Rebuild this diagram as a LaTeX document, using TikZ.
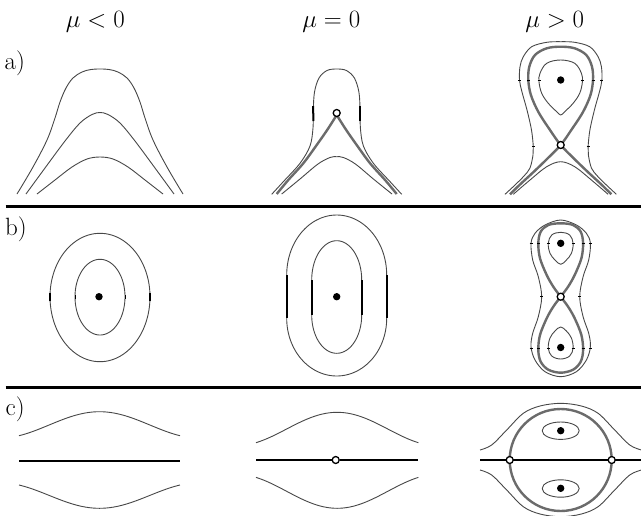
\documentclass[tikz,border=0pt]{standalone}
\usepackage{tikz}
\begin{document}
\begin{tikzpicture}[x=1pt,y=-1pt,
 orb/.style={draw=black!72, line width=0.9pt, line join=round},
 sepx/.style={draw=black!58, line width=2.4pt, line join=round},
 tk/.style={draw=black, line width=0.8pt},
 tkb/.style={draw=black, line width=2pt},
 hline/.style={draw=black, line width=2.2pt},
 rulex/.style={draw=black, line width=2.6pt},
 dotf/.style={circle, fill=black, inner sep=0pt, minimum size=7.4pt},
 doto/.style={circle, draw=black, fill=white, line width=1.3pt, inner sep=0pt, minimum size=7pt},
 lab/.style={inner sep=0pt, font=\fontsize{25}{30}\selectfont}]
\useasboundingbox (0,0) rectangle (641,515);
\clip (0,0) rectangle (641,515);

% labels
\node[lab, anchor=base] (l1) at (95.3,27.3) {$\mu<0$};
\node[lab, anchor=base] (l2) at (331.3,27.3) {$\mu=0$};
\node[lab, anchor=base] (l3) at (554.7,27.3) {$\mu>0$};
\node[lab, anchor=base west] (la) at (4.5,69) {a)};
\node[lab, anchor=base west] (lb) at (5,235.5) {b)};
\node[lab, anchor=base west] (lc) at (5.5,415.5) {c)};

% separators
\coordinate (s1a) at (5.5,206.5); \coordinate (s1b) at (641,206.5);
\coordinate (s2a) at (5.5,387.3); \coordinate (s2b) at (641,387.3);
\draw[rulex] (s1a) -- (s1b);
\draw[rulex] (s2a) -- (s2b);

% ===== a1 =====
\draw[orb] plot[smooth, tension=0.6] coordinates {(17,194) (33,167) (47,140) (55,118) (60,102) (66,88) (73,78) (82,72) (91,69.5) (100,69) (109,69.5) (118,72) (127,78) (134,88) (140,102) (145,118) (153,140) (167,167) (183,194)};
\draw[orb] plot[smooth, tension=0.55] coordinates {(26,194) (45,168) (65,141) (80,123) (92,114.5) (100,112.5) (108,114.5) (120,123) (135,141) (155,168) (174,194)};
\draw[orb] plot[smooth, tension=0.55] coordinates {(37,194) (55,180) (72,167) (87,159) (100,157) (113,159) (128,167) (145,180) (163,194)};

% ===== a2 =====
\draw[orb] plot[smooth, tension=0.55] coordinates {(271.7,194.3) (283.3,181.7) (300,163.3) (310,146) (313,128) (313.3,110) (314.5,92) (319,78) (327,70.5) (336.7,69) (346.4,70.5) (354.4,78) (358.9,92) (360.1,110) (360.4,128) (363.4,146) (373.4,163.3) (390.1,181.7) (401.7,194.3)};
\draw[tkb] (313.2,106) -- (313.3,121);
\draw[tkb] (360.2,106) -- (360.2,121);
\draw[orb] plot[smooth, tension=0.55] coordinates {(281.7,194) (300,179) (318,164) (330,157.5) (336.7,156.7) (343.4,157.5) (355.4,164) (373.4,179) (392,194)};
\draw[sepx] plot[smooth, tension=0.55] coordinates {(276.7,194) (288.3,180) (303.3,163.3) (316.7,145) (327.5,129.5) (336.7,115)};
\draw[sepx] plot[smooth, tension=0.55] coordinates {(336.7,115) (345.9,129.5) (356.7,145) (370.1,163.3) (385.1,180) (396.7,194)};
\node[doto] (sa2) at (336.7,113) {};

% ===== a3 =====
\draw[orb] plot[smooth, tension=0.55] coordinates {(505,194.3) (515,185) (524,176) (530,168) (533,155) (533.3,146.7) (531.5,130) (527,110) (522,92) (519.5,80) (520,66.7) (523.3,56.7) (531.7,46.7) (546.7,42.3) (560.7,41.7) (574.7,42.3) (589.7,46.7) (598.1,56.7) (601.4,66.7) (601.9,80) (599.4,92) (594.4,110) (589.9,130) (588.1,146.7) (588.4,155) (591.4,168) (597.4,176) (606.4,185) (616.4,194.3)};
\draw[orb] plot[smooth, tension=0.55] coordinates {(513.3,194.3) (530,180) (546.7,166.7) (560.7,161.7) (574.7,166.7) (591.4,180) (608.1,194.3)};
\draw[orb] plot[smooth cycle, tension=0.6] coordinates {(560.7,60) (546.7,63.3) (540,73.3) (539,81.7) (541.7,93.3) (548.3,103.3) (556.7,111.7) (560.7,115) (564.7,111.7) (573.1,103.3) (579.7,93.3) (582.4,81.7) (581.4,73.3) (574.7,63.3)};
\draw[sepx] plot[smooth, tension=0.55] coordinates {(510,194.3) (520,184.5) (533,172.5) (547,159) (560.7,145) (571.3,130) (583,112) (590.5,95) (593,80) (592,66.7) (586.3,55) (574.7,48.3) (560.7,46.7) (546.7,48.3) (535,55) (529.3,66.7) (528.3,80) (530.9,95) (538.4,112) (550,130) (560.7,145) (574.4,159) (588.4,172.5) (601.4,184.5) (611.4,194.3)};
\foreach \xx in {519.5,528.3,539,582.4,593.1,601.9} \draw[tk] (\xx-1.5,80) -- (\xx+1.5,80);
\foreach \xx in {533.3,588.1} \draw[tk] (\xx-1.5,146.7) -- (\xx+1.5,146.7);
\node[dotf] (ca3) at (560.7,80) {};
\node[doto] (sa3) at (560.7,145) {};

% ===== b1 =====
\draw[orb] plot[domain=0:180, samples=61] ({100+50*cos(\x)},{296.7-63.4*sin(\x)}) -- plot[domain=180:360, samples=61] ({100+50*cos(\x)},{296.7-65*sin(\x)}) -- cycle;
\draw[orb] plot[domain=0:180, samples=61] ({100+25*cos(\x)},{296.7-37.4*sin(\x)}) -- plot[domain=180:360, samples=61] ({100+25*cos(\x)},{296.7-38.3*sin(\x)}) -- cycle;
\draw[tkb] (50,292.5) -- (50,301); \draw[tkb] (150,292.5) -- (150,301);
\draw[tk] (75,294.5) -- (75,299); \draw[tk] (125,294.5) -- (125,299);
\node[dotf] (cb1) at (99,296.7) {};

% ===== b2 =====
\draw[orb] plot[domain=0:180, samples=61] ({336.7+50*cos(\x)},{275-60*sin(\x)}) -- plot[domain=180:360, samples=61] ({336.7+50*cos(\x)},{318.3-57.7*sin(\x)}) -- cycle;
\draw[orb] plot[domain=0:180, samples=61] ({336.7+25*cos(\x)},{280-39.3*sin(\x)}) -- plot[domain=180:360, samples=61] ({336.7+25*cos(\x)},{315-38.3*sin(\x)}) -- cycle;
\draw[tkb] (286.7,275) -- (286.7,318.3); \draw[tkb] (386.7,275) -- (386.7,318.3);
\draw[tkb] (311.7,280) -- (311.7,315); \draw[tkb] (361.7,280) -- (361.7,315);
\node[dotf] (cb2) at (336.7,296.7) {};

% ===== b3 =====
\draw[orb] plot[smooth cycle, tension=0.55] coordinates {(560.7,220) (545,225) (535,233.3) (531,243.3) (532.7,260) (538.3,276.7) (541.7,296.7) (538.3,316.7) (532.7,333.3) (531,346.7) (535,360) (545,371.7) (560.7,376.7) (576.4,371.7) (586.4,360) (590.4,346.7) (588.7,333.3) (583.1,316.7) (579.7,296.7) (583.1,276.7) (588.7,260) (590.4,243.3) (586.4,233.3) (576.4,225)};
\draw[sepx] plot[smooth cycle, tension=0.55] coordinates {(560.7,296.7) (553.3,286.7) (546.7,275) (540,258.3) (538.3,243.3) (540.7,231.7) (548.3,225) (560.7,223.3) (573.1,225) (580.7,231.7) (583.1,243.3) (581.4,258.3) (574.7,275) (568.1,286.7) (560.7,296.7) (553.3,306.7) (546.7,318.3) (540,335) (538.3,350) (540.7,361.7) (548.3,369.7) (560.7,372.7) (573.1,369.7) (580.7,361.7) (583.1,350) (581.4,335) (574.7,318.3) (568.1,306.7)};
\draw[orb] plot[smooth cycle, tension=0.6] coordinates {(560.7,232.3) (551.7,235) (548.3,243.3) (550,253.3) (555,260) (560.7,264.3) (566.4,260) (571.4,253.3) (573.1,243.3) (569.7,235)};
\draw[orb] plot[smooth cycle, tension=0.6] coordinates {(560.7,327) (566.4,331) (571.4,338) (573.1,348) (569.7,356) (560.7,359) (551.7,356) (548.3,348) (550,338) (555,331)};
\foreach \xx in {531,538.3,548.3,573.1,583.1,590.4} {\draw[tk] (\xx-1.5,243.3) -- (\xx+1.5,243.3); \draw[tk] (\xx-1.5,348) -- (\xx+1.5,348);}
\foreach \xx in {541.7,579.7} \draw[tk] (\xx-1.5,296.7) -- (\xx+1.5,296.7);
\node[dotf] (cb3a) at (560.7,243.3) {};
\node[dotf] (cb3b) at (560.7,347.5) {};
\node[doto] (sb3) at (560.7,296.7) {};

% ===== c1 =====
\draw[orb] plot[domain=-1:1, samples=61] ({99.5+80.5*\x},{411.7+13.27*(1-cos(144*\x))});
\draw[orb] plot[domain=-1:1, samples=61] ({99.5+80.5*\x},{508.3-12.88*(1-cos(144*\x))});
\coordinate (c1a) at (19,460.7); \coordinate (c1b) at (180,460.7);
\draw[hline] (c1a) -- (c1b);

% ===== c2 =====
\draw[orb] plot[domain=-1:1, samples=61] ({337.2+81.2*\x},{412.3+16.8*(1-cos(144*\x))});
\draw[orb] plot[domain=-1:1, samples=61] ({337.2+81.2*\x},{508.3-17.1*(1-cos(144*\x))});
\coordinate (c2a) at (256,460); \coordinate (c2b) at (418.3,460);
\node[doto] (sc2) at (335.7,460) {};
\draw[hline] (c2a) -- (sc2);
\draw[hline] (sc2) -- (c2b);

% ===== c3 =====
\draw[orb] plot[smooth, tension=0.55] coordinates {(480,450) (491.7,445) (506.7,430) (523.3,413.3) (540,406) (560.7,403.3) (581.4,406) (598.1,413.3) (614.7,430) (629.7,445) (641.4,450)};
\draw[orb] plot[smooth, tension=0.55] coordinates {(480,470) (491.7,475) (506.7,490) (523.3,506.7) (540,514) (560.7,516.7) (581.4,514) (598.1,506.7) (614.7,490) (629.7,475) (641.4,470)};
\draw[orb] (560.7,430.7) ellipse[x radius=18.5, y radius=8.7];
\draw[orb] (560.7,488.5) ellipse[x radius=18.5, y radius=8.7];
\coordinate (c3a) at (480,460); \coordinate (c3b) at (641,460);
\draw[hline] (c3a) -- (c3b);
\draw[sepx] (560.7,460) circle[radius=51];
\node[dotf] (cc3a) at (560.7,430.7) {};
\node[dotf] (cc3b) at (560.7,488.3) {};
\node[doto] (sc3a) at (509.7,460) {};
\node[doto] (sc3b) at (611.7,460) {};
\end{tikzpicture}
\end{document}
